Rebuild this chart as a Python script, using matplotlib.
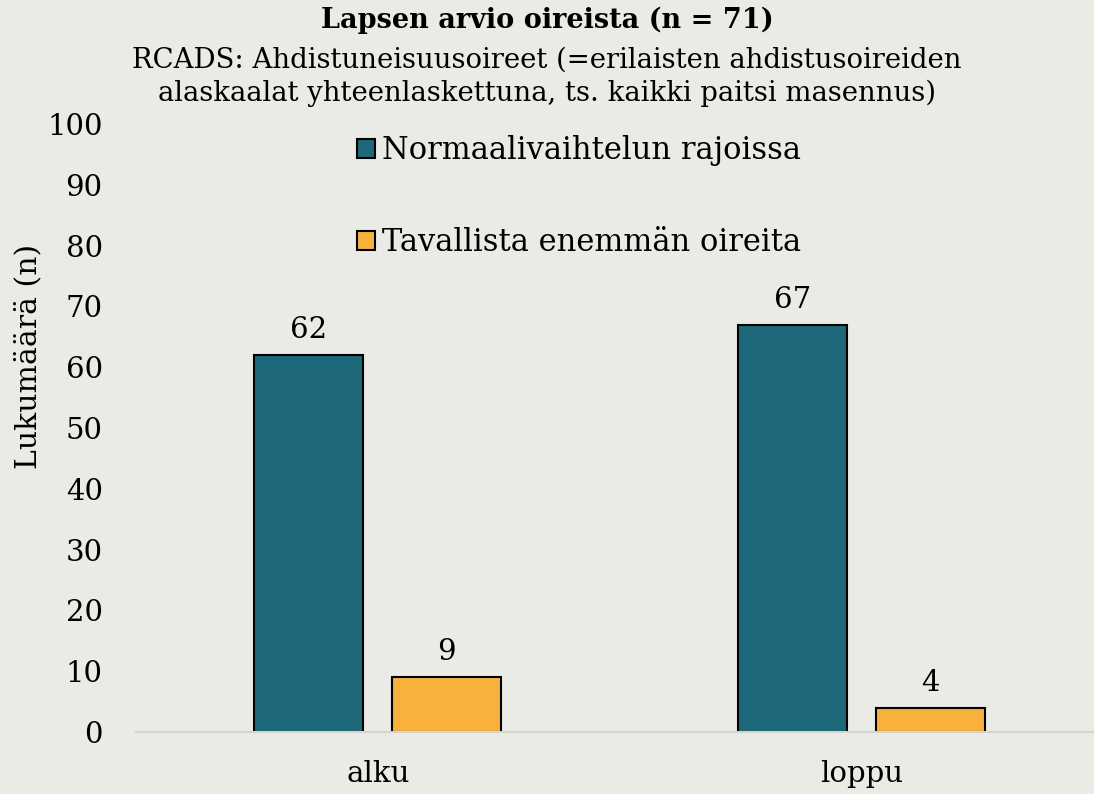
import numpy as np
import matplotlib
matplotlib.use("Agg")
from matplotlib import pyplot as plt

# data
categories = ["alku", "loppu"]
normaali = [62, 67]
tavallista = [9, 4]
series_names = ["Normaalivaihtelun rajoissa", "Tavallista enemmän oireita"]
yticks = list(range(0, 101, 10))

bg = "#EBEBE6"
c_teal = "#1E687B"
c_orange = "#F9B13E"

plt.rcParams['font.family'] = ['DejaVu Serif', 'Liberation Serif']

fig = plt.figure(figsize=(10.94, 7.94), dpi=100, facecolor=bg)
ax = fig.add_axes([0.1243, 0.0781, 0.884, 0.7657], facecolor=bg)

x = np.arange(len(categories))
w = 0.225
off = 0.1426
b1 = ax.bar(x - off, normaali, w, color=c_teal, edgecolor="black", linewidth=1.5,
            label=series_names[0])
b2 = ax.bar(x + off, tavallista, w, color=c_orange, edgecolor="black", linewidth=1.5,
            label=series_names[1])

for bars in (b1, b2):
    ax.bar_label(bars, padding=8, fontsize=21)

ax.set_xlim(-0.5, 1.5)
ax.set_ylim(0, 100)
ax.set_yticks(yticks)
ax.set_xticks(x)
ax.set_xticklabels(categories)
ax.tick_params(axis="both", length=0, labelsize=21)
ax.tick_params(axis="y", pad=24)
ax.tick_params(axis="x", pad=20)
for s in ["top", "right", "left"]:
    ax.spines[s].set_visible(False)
ax.spines["bottom"].set_color("#D4D4D0")
ax.spines["bottom"].set_linewidth(1.5)

ax.set_ylabel("Lukumäärä (n)", fontsize=21.5)
ax.yaxis.set_label_coords(-0.097, 0.617)

ax.legend(loc="upper center", bbox_to_anchor=(0.458, 1.027), frameon=False,
          fontsize=22, labelspacing=2.0, handlelength=0.6, handleheight=0.6,
          handletextpad=0.2)

fig.text(0.5, 0.975, "Lapsen arvio oireista (n = 71)", ha="center", va="center",
         fontsize=19.5, fontweight="bold")
fig.text(0.5, 0.924, "RCADS: Ahdistuneisuusoireet (=erilaisten ahdistusoireiden",
         ha="center", va="center", fontsize=19.8)
fig.text(0.5, 0.882, "alaskaalat yhteenlaskettuna, ts. kaikki paitsi masennus)",
         ha="center", va="center", fontsize=19.8)

fig.savefig("out.png", dpi=100, facecolor=bg)
